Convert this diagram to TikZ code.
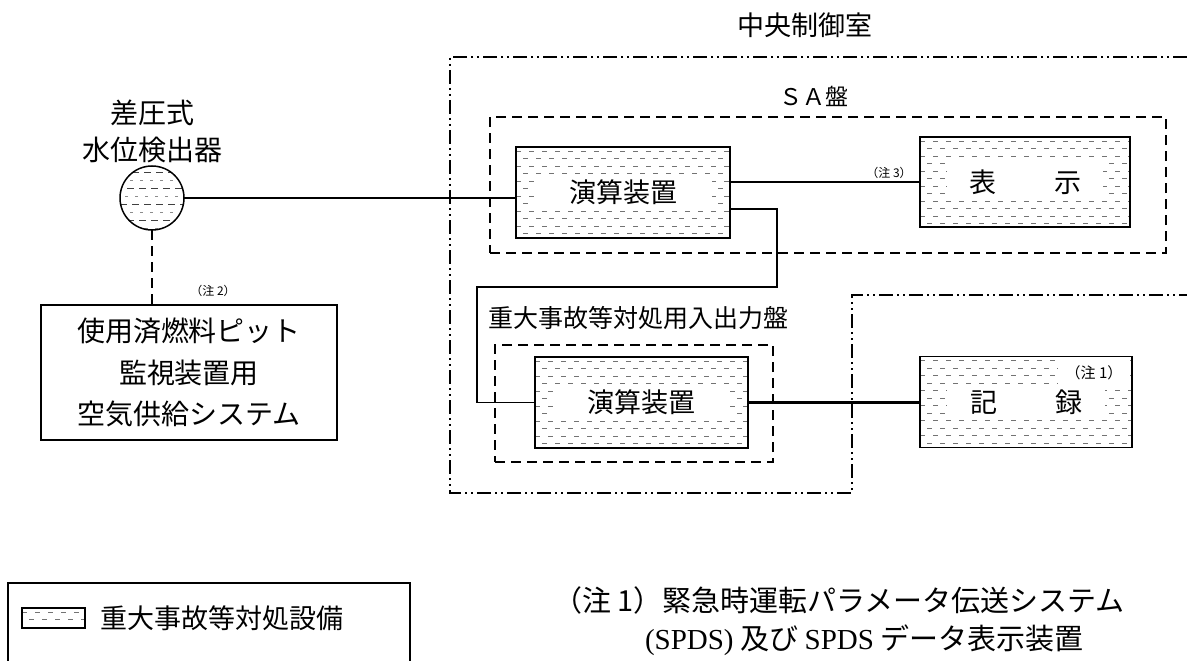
\documentclass[tikz,border=0pt]{standalone}
\usepackage{fontspec}
\setmainfont{Liberation Serif}
\newfontfamily\cjk{Noto Sans CJK JP}
\usetikzlibrary{calc}
\newcommand\jpf[2]{\cjk\fontsize{#1}{#2}\selectfont}
\newcommand\mkhatch{%
  \foreach \k in {0,...,13}{%
    \pgfmathsetmacro\ph{mod(\k,2)*6}%
    \draw[black!55, line width=0.5pt, dash pattern=on 5pt off 8pt, dash phase=\ph pt]
      ([yshift={-\k*7.5pt-4pt}]path picture bounding box.north west) -- ++(400pt,0pt);
  }}
\newcommand\mkcirc{%
  \foreach \k in {0,...,4}{%
    \pgfmathsetmacro\ph{mod(\k,2)*5}%
    \draw[black!75, line width=0.9pt, dash pattern=on 7pt off 5pt, dash phase=\ph pt]
      ([yshift={-\k*16pt-6pt}]path picture bounding box.north west) -- ++(80pt,0pt);
    \draw[black!45, line width=0.5pt, dash pattern=on 3pt off 7pt, dash phase=\ph pt]
      ([yshift={-\k*16pt-14pt}]path picture bounding box.north west) -- ++(80pt,0pt);
  }}
\tikzset{
  sabox/.style n args={4}{draw, line width=1.8pt, inner sep=0pt,
    path picture={\mkhatch
      \fill[white] ([shift={(#1pt,-#3pt)}]path picture bounding box.north west)
        rectangle ([shift={(-#2pt,#4pt)}]path picture bounding box.south east);}},
  swatch/.style={draw, line width=1.6pt, inner sep=0pt, path picture={\mkhatch}},
  plainbox/.style={draw, line width=1.4pt, inner sep=0pt},
  ddd/.style={line width=1.4pt, dash pattern=on 14pt off 4pt on 2pt off 4pt on 2pt off 4pt},
  dsh/.style={line width=1.6pt, dash pattern=on 10pt off 6pt},
  conn/.style={line width=1.4pt},
  thickconn/.style={line width=2.4pt},
}
\begin{document}
\begin{tikzpicture}[x=1pt,y=-1pt, every node/.style={inner sep=0pt, outer sep=0pt}]
\useasboundingbox (0,0) rectangle (1187,661);
\clip (0,0) rectangle (1187,661);

% titles
\node[font=\jpf{27}{30}] (title) at (805,25) {中央制御室};

% outer control-room frame
\coordinate (oTR) at (1187,57);
\coordinate (oTL) at (450,57);
\coordinate (oBL) at (450,493);
\coordinate (oBM) at (852,493);
\coordinate (oMM) at (852,295);
\coordinate (oMR) at (1187,295);
\draw[ddd] (oTR) -- (oTL) -- (oBL) -- (oBM) -- (oMM) -- (oMR);

% SA panel
\node[dsh, draw, minimum width=676pt, minimum height=136pt] (sa) at (828,185) {};
\node[font=\jpf{23}{26}] (salbl) at (814,96) {ＳＡ盤};

\node[sabox={18}{18}{30}{30}, minimum width=214pt, minimum height=91pt, font=\jpf{27}{30}] (up) at (623,192.5) {演算装置};
\node[sabox={27}{27}{26}{26}, minimum width=210pt, minimum height=90pt, font=\jpf{27}{30}] (disp) at (1025,182) {表\hspace{58pt}示};
\node[font=\jpf{12}{14}] (n3) at (889,173) {（注 3）};

% I/O panel
\node[font=\jpf{25}{28}, anchor=west] (iolbl) at (488,318) {重大事故等対処用入出力盤};
\node[dsh, draw, minimum width=278pt, minimum height=117pt] (io) at (634,403.5) {};
\node[sabox={18}{18}{30}{30}, minimum width=213pt, minimum height=91pt, font=\jpf{27}{30}] (low) at (641.5,402.5) {演算装置};

\node[sabox={27}{27}{31}{29}, minimum width=212pt, minimum height=91pt, font=\jpf{27}{30}] (rec) at (1026,402) {記\hspace{58pt}録};
\node[fill=white, minimum width=72pt, minimum height=29pt, anchor=north east, font=\jpf{15}{17}] (n1) at ([shift={(-2pt,-2pt)}]rec.north east) {（注 1）};

% detector
\node[font=\jpf{28}{30}] (d1) at (152,113) {差圧式};
\node[font=\jpf{28}{30}] (d2) at (152,150) {水位検出器};
\node[circle, draw, line width=1.5pt, minimum size=64pt, path picture={\mkcirc}] (det) at (152,198) {};

\node[plainbox, minimum width=296pt, minimum height=135pt, align=center, font=\jpf{28}{41.5}] (spf) at (189,372.5) {使用済燃料ピット\\監視装置用\\空気供給システム};
\node[font=\jpf{12}{14}] (n2) at (213,291) {（注 2）};

% connectors
\coordinate (c1) at (777,287);
\coordinate (c2) at (477,287);
\draw[conn] (det.east) -- (det.east -| up.west);
\draw[conn] (disp.west) -- (disp.west -| up.east);
\draw[conn] ([yshift=-16.5pt]up.east) -| (c1) -- (c2) |- (low.west);
\draw[thickconn] (low.east) -- (low.east -| rec.west);
\draw[dsh] (det.south) -- (det.south |- spf.north);

% legend
\node[plainbox, minimum width=402pt, minimum height=110pt] (leg) at (209,638) {};
\node[swatch, minimum width=63pt, minimum height=20pt] (sw) at (53.5,618) {};
\node[anchor=west, font=\jpf{27}{30}] (legt) at (100,618) {重大事故等対処設備};

% notes
\node[anchor=west, font=\jpf{29}{32}] (note1) at (553,600) {（注 1）緊急時運転パラメータ伝送システム};
\node[anchor=west, font=\jpf{29}{32}] (note2) at (645,640) {{\rmfamily (SPDS)} 及び {\rmfamily SPDS} データ表示装置};
\end{tikzpicture}
\end{document}
